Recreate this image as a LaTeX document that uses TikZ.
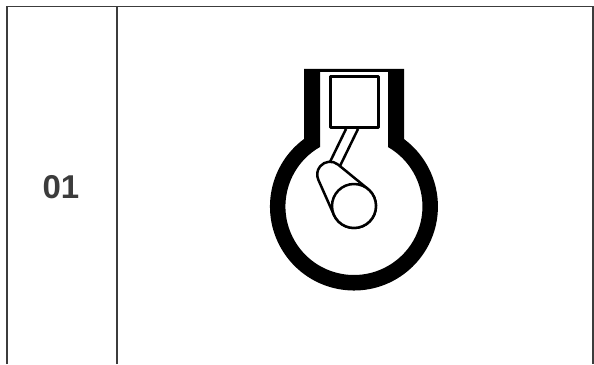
\documentclass[tikz,border=0pt]{standalone}
\usepackage{fontspec}
\setmainfont{Liberation Sans}
\usepackage{tikz}
\definecolor{gridgray}{HTML}{3C3C3C}

\begin{document}
\begin{tikzpicture}[x=1pt,y=1pt,
	gridline/.style={draw=gridgray,line width=1.9pt},
	partline/.style={draw=black,line width=2.5pt,fill=white,line join=round}]
	\useasboundingbox (0,0) rectangle (594,364);
	\draw [gridline] (7,0) -- (7,357.5) -- (593.3,357.5) -- (593.3,0);
	\draw [gridline] (117,0) -- (117,357.5);
	\node (num) at (61,176.5) [text=gridgray,font=\fontsize{33}{33}\selectfont\bfseries] {01};
	\fill [black,even odd rule] (404,225) -- (404,295) -- (304,295) -- (304,225)
		arc (126.5:413.5:84) -- cycle
		(388,217) -- (388,292) -- (320,292) -- (320,217)
		arc (119.7:420.3:68.5) -- cycle;
	\draw [partline] (346,235) -- (329,200) -- (340,198) -- (358,235);
	\draw [partline,line width=3pt] (330.5,236.5) rectangle (378.5,287.5);
	\draw [partline] (338.1,199.4) arc (50.7:203.9:12.8) -- (333.9,149.1) arc (203.9:410.7:22) -- cycle;
	\draw [partline] (354,158) circle (22);
\end{tikzpicture}
\end{document}
